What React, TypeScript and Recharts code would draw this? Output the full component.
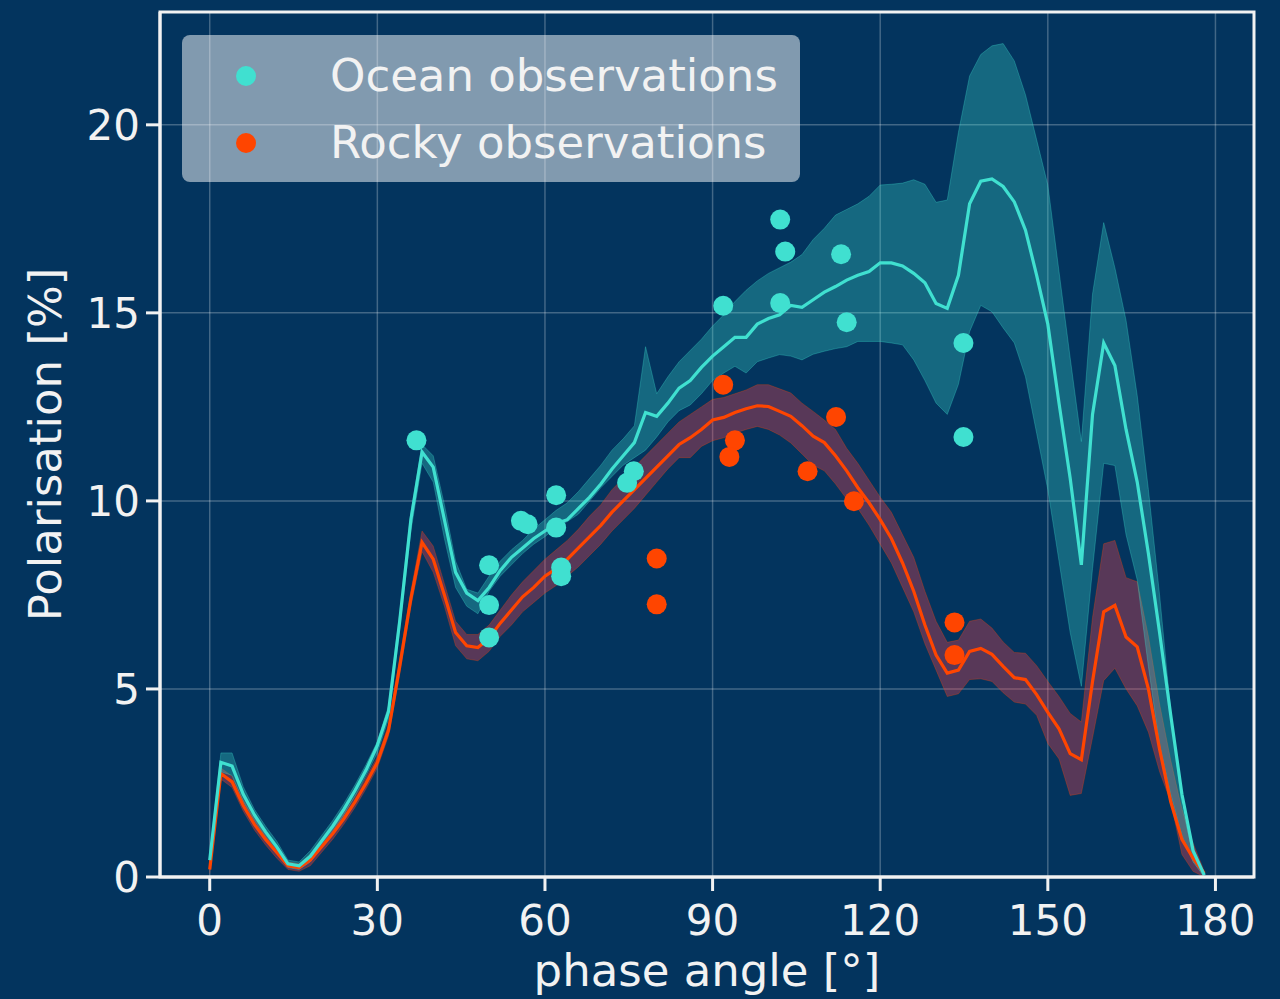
import { ComposedChart, Line, Area, Scatter, XAxis, YAxis, CartesianGrid, Legend, Label, ReferenceArea } from 'recharts'

// phase angle grid of the model curves [deg]
const angles = [
  0, 2, 4, 6, 8, 10, 12, 14, 16, 18,
  20, 22, 24, 26, 28, 30, 32, 34, 36, 38,
  40, 42, 44, 46, 48, 50, 52, 54, 56, 58,
  60, 62, 64, 66, 68, 70, 72, 74, 76, 78,
  80, 82, 84, 86, 88, 90, 92, 94, 96, 98,
  100, 102, 104, 106, 108, 110, 112, 114, 116, 118,
  120, 122, 124, 126, 128, 130, 132, 134, 136, 138,
  140, 142, 144, 146, 148, 150, 152, 154, 156, 158,
  160, 162, 164, 166, 168, 170, 172, 174, 176, 178,
]

const oceanMean = [
  0.45, 3.05, 2.95, 2.2, 1.65, 1.2, 0.8, 0.35, 0.3, 0.55,
  0.95, 1.35, 1.8, 2.3, 2.85, 3.5, 4.4, 6.8, 9.5, 11.3,
  10.9, 9.5, 8.1, 7.55, 7.35, 7.7, 8.15, 8.5, 8.75, 9.0,
  9.2, 9.4, 9.5, 9.8, 10.1, 10.45, 10.85, 11.2, 11.55, 12.35,
  12.25, 12.6, 13.0, 13.2, 13.55, 13.85, 14.1, 14.35, 14.35, 14.7,
  14.85, 14.95, 15.2, 15.15, 15.35, 15.55, 15.7, 15.87, 16.0, 16.1,
  16.33, 16.33, 16.25, 16.05, 15.8, 15.25, 15.12, 16.0, 17.9, 18.5,
  18.56, 18.36, 17.95, 17.2, 16.0, 14.7, 12.6, 10.6, 8.3, 12.3,
  14.2, 13.6, 11.9, 10.5, 8.6, 6.5, 4.3, 2.2, 0.7, 0.05,
]
const oceanHigh = [
  0.55, 3.3, 3.3, 2.4, 1.8, 1.35, 0.95, 0.45, 0.4, 0.7,
  1.1, 1.5, 1.95, 2.45, 3.0, 3.6, 4.55, 7.0, 9.7, 11.5,
  11.2, 9.9, 8.4, 7.65, 7.55, 8.0, 8.4, 8.7, 8.95, 9.25,
  9.5, 9.75, 9.95, 10.25, 10.6, 10.95, 11.35, 11.65, 12.0, 14.1,
  12.85, 13.3, 13.7, 14.0, 14.3, 14.65, 14.95, 15.3, 15.6, 15.85,
  16.05, 16.2, 16.35, 16.55, 16.95, 17.25, 17.6, 17.75, 17.9, 18.1,
  18.4, 18.42, 18.45, 18.54, 18.42, 17.94, 18.0, 19.8, 21.3, 21.87,
  22.1, 22.16, 21.7, 20.8, 19.6, 18.4, 16.1, 13.8, 11.58, 15.5,
  17.4, 16.2, 14.8, 12.8, 10.3, 7.5, 4.4, 1.9, 0.6, 0.1,
]
const oceanLow = [
  0.3, 2.8, 2.7, 2.0, 1.5, 1.05, 0.65, 0.25, 0.2, 0.4,
  0.8, 1.2, 1.65, 2.15, 2.7, 3.3, 4.2, 6.6, 9.2, 11.0,
  10.5, 9.0, 7.7, 7.2, 7.0, 7.6, 8.0, 8.3, 8.6, 8.85,
  9.05, 9.3, 9.45, 9.65, 10.0, 10.35, 10.65, 10.95, 11.15, 11.35,
  11.7, 12.1, 12.4, 12.55, 12.85, 13.2, 13.4, 13.58, 13.4, 13.7,
  13.8, 13.89, 13.85, 13.75, 13.9, 13.98, 14.05, 14.1, 14.24, 14.24,
  14.24, 14.2, 14.15, 13.75, 13.2, 12.6, 12.3, 13.1, 14.5, 15.2,
  15.03, 14.6, 14.2, 13.3, 11.8, 10.3, 8.4, 6.5, 5.07, 8.2,
  11.0, 10.94, 9.1, 7.9, 5.6, 3.5, 2.2, 1.1, 0.4, 0.0,
]

const rockyMean = [
  0.2, 2.75, 2.53, 1.9, 1.4, 1.0, 0.65, 0.3, 0.25, 0.45,
  0.8, 1.15, 1.55, 2.0, 2.5, 3.05, 3.9, 5.6, 7.4, 8.9,
  8.45, 7.5, 6.5, 6.15, 6.1, 6.35, 6.75, 7.1, 7.45, 7.7,
  8.0, 8.2, 8.45, 8.75, 9.05, 9.35, 9.7, 10.0, 10.3, 10.6,
  10.9, 11.2, 11.5, 11.68, 11.9, 12.15, 12.22, 12.35, 12.45, 12.53,
  12.51, 12.38, 12.25, 12.0, 11.72, 11.55, 11.2, 10.8, 10.35, 9.95,
  9.5, 9.0, 8.35, 7.6, 6.7, 5.9, 5.42, 5.5, 6.0, 6.08,
  5.92, 5.6, 5.3, 5.25, 4.85, 4.38, 3.94, 3.28, 3.12, 5.2,
  7.05, 7.22, 6.38, 6.12, 5.0, 3.4, 2.0, 1.0, 0.5, 0.1,
]
const rockyHigh = [
  0.3, 2.9, 2.68, 2.05, 1.55, 1.15, 0.8, 0.4, 0.35, 0.6,
  0.95, 1.3, 1.7, 2.15, 2.65, 3.2, 4.05, 5.8, 7.6, 9.2,
  8.8, 7.8, 6.8, 6.45, 6.45, 6.7, 7.1, 7.5, 7.85, 8.15,
  8.45, 8.7, 8.95, 9.25, 9.6, 9.9, 10.3, 10.6, 10.9, 11.2,
  11.5, 11.8, 12.1, 12.3, 12.5, 12.7, 12.75, 12.85, 12.95, 13.09,
  13.09, 12.98, 12.87, 12.6, 12.38, 12.15, 11.9, 11.4, 11.0, 10.55,
  10.1, 9.7, 9.1, 8.5, 7.6, 6.8, 6.24, 6.3, 6.8, 6.86,
  6.62, 6.25, 5.97, 5.95, 5.62, 5.2, 4.8, 4.35, 4.12, 6.9,
  8.86, 8.95, 7.96, 7.85, 6.4, 4.6, 3.1, 1.8, 0.9, 0.15,
]
const rockyLow = [
  0.1, 2.6, 2.38, 1.75, 1.25, 0.85, 0.5, 0.2, 0.15, 0.3,
  0.65, 1.0, 1.4, 1.85, 2.35, 2.9, 3.75, 5.4, 7.2, 8.65,
  8.1, 7.2, 6.15, 5.8, 5.75, 6.0, 6.4, 6.7, 7.05, 7.3,
  7.55, 7.75, 8.0, 8.25, 8.55, 8.85, 9.2, 9.5, 9.8, 10.15,
  10.5, 10.85, 11.15, 11.15, 11.45, 11.6, 11.68, 11.8, 11.9, 11.98,
  11.9, 11.75, 11.54, 11.25, 10.95, 10.8, 10.45, 10.05, 9.8, 9.35,
  8.85, 8.35, 7.7, 7.05, 6.2, 5.5, 4.8, 4.87, 5.25, 5.27,
  5.2, 4.9, 4.65, 4.6, 4.3, 3.55, 3.14, 2.17, 2.22, 3.7,
  5.22, 5.55, 5.0, 4.55, 3.85, 2.8, 2.0, 0.6, 0.15, 0.0,
]

// observations
const oceanObsAngle = [37.0, 50.0, 50.0, 50.0, 55.7, 56.9, 62.0, 62.0, 62.9, 62.9, 74.7, 75.9, 91.9, 102.1, 103.0, 102.1, 113.0, 114.0, 134.9, 134.9]
const oceanObsValue = [11.61, 8.29, 7.23, 6.37, 9.47, 9.38, 10.15, 9.29, 8.23, 8.0, 10.48, 10.79, 15.19, 17.48, 16.63, 15.26, 16.56, 14.75, 14.2, 11.7]
const rockyObsAngle = [80.0, 80.0, 91.9, 94.0, 93.0, 107.0, 112.1, 115.3, 133.3, 133.3]
const rockyObsValue = [8.47, 7.25, 13.09, 11.61, 11.17, 10.79, 12.23, 9.99, 6.77, 5.9]

const xTicks = [0, 30, 60, 90, 120, 150, 180]
const yTicks = [0, 5, 10, 15, 20]
const legendNames = ['Ocean observations', 'Rocky observations']

const OCEAN = '#40e0d0'
const ROCKY = '#ff4500'
const BG = '#03345e'
const FG = '#f2f2f2'
const FONT = '"DejaVu Sans", sans-serif'
const xDomain = [-8.9, 186.9]
const yDomain = [0, 23]

const curveData = angles.map((deg, i) => ({
  deg,
  ocean: oceanMean[i],
  oceanBand: [oceanLow[i], oceanHigh[i]],
  rocky: rockyMean[i],
  rockyBand: [rockyLow[i], rockyHigh[i]],
}))
const oceanPoints = oceanObsAngle.map((deg, i) => ({ deg, value: oceanObsValue[i] }))
const rockyPoints = rockyObsAngle.map((deg, i) => ({ deg, value: rockyObsValue[i] }))

const tickStyle = { fill: FG, fontSize: 42, fontFamily: FONT }

const renderLegend = (props: any) => {
  const items = (props.payload || []).filter((entry: any) => legendNames.includes(entry.value))
  return (
    <div
      style={{
        width: 618,
        height: 147,
        boxSizing: 'border-box',
        paddingTop: 7,
        background: 'rgba(255,255,255,0.5)',
        borderRadius: 8,
        fontFamily: FONT,
        fontSize: 45,
        color: FG,
      }}
    >
      {items.map((entry: any) => (
        <div key={entry.value} style={{ display: 'flex', alignItems: 'center', height: 67 }}>
          <span
            style={{
              display: 'inline-block',
              width: 20,
              height: 20,
              borderRadius: '50%',
              background: entry.color,
              marginLeft: 54,
              marginRight: 74,
            }}
          />
          <span>{entry.value}</span>
        </div>
      ))}
    </div>
  )
}

const dot = (color: string) => (p: any) => <circle cx={p.cx} cy={p.cy} r={10} fill={color} />

export default function App() {
  return (
    <div style={{ position: 'absolute', left: 0, top: 0, width: 1280, height: 999, background: BG }}>
      <ComposedChart width={1280} height={999} data={curveData} margin={{ top: 12, right: 26, left: 0, bottom: 0 }}>
        <CartesianGrid stroke="rgba(255,255,255,0.25)" strokeWidth={1.5} />
        <XAxis
          dataKey="deg"
          type="number"
          domain={xDomain}
          allowDataOverflow
          ticks={xTicks}
          height={122}
          tick={tickStyle}
          tickSize={14}
          tickMargin={14}
          tickLine={{ stroke: FG, strokeWidth: 3 }}
          axisLine={{ stroke: FG, strokeWidth: 3 }}
        >
          <Label
            content={(p: any) => (
              <text
                x={p.viewBox.x + p.viewBox.width / 2}
                y={986}
                textAnchor="middle"
                fill={FG}
                fontSize={45}
                fontFamily={FONT}
              >
                phase angle [°]
              </text>
            )}
          />
        </XAxis>
        <YAxis
          type="number"
          domain={yDomain}
          allowDataOverflow
          ticks={yTicks}
          width={160}
          tick={tickStyle}
          tickSize={14}
          tickMargin={6}
          tickLine={{ stroke: FG, strokeWidth: 3 }}
          axisLine={{ stroke: FG, strokeWidth: 3 }}
        >
          <Label
            content={(p: any) => {
              const cy = p.viewBox.y + p.viewBox.height / 2
              return (
                <text
                  x={61}
                  y={cy}
                  transform={`rotate(-90 61 ${cy})`}
                  textAnchor="middle"
                  fill={FG}
                  fontSize={45}
                  fontFamily={FONT}
                >
                  Polarisation [%]
                </text>
              )
            }}
          />
        </YAxis>
        <Area
          type="linear"
          dataKey="rockyBand"
          fill="#ff404c"
          fillOpacity={0.34}
          stroke={ROCKY}
          strokeOpacity={0.3}
          strokeWidth={1}
          dot={false}
          activeDot={false}
          legendType="none"
          isAnimationActive={false}
        />
        <Area
          type="linear"
          dataKey="oceanBand"
          fill={OCEAN}
          fillOpacity={0.3}
          stroke={OCEAN}
          strokeOpacity={0.3}
          strokeWidth={1}
          dot={false}
          activeDot={false}
          legendType="none"
          isAnimationActive={false}
        />
        <Line
          type="linear"
          dataKey="rocky"
          stroke={ROCKY}
          strokeWidth={3.2}
          dot={false}
          activeDot={false}
          legendType="none"
          isAnimationActive={false}
        />
        <Line
          type="linear"
          dataKey="ocean"
          stroke={OCEAN}
          strokeWidth={3.2}
          dot={false}
          activeDot={false}
          legendType="none"
          isAnimationActive={false}
        />
        <Scatter
          name="Ocean observations"
          data={oceanPoints}
          dataKey="value"
          fill={OCEAN}
          shape={dot(OCEAN)}
          isAnimationActive={false}
        />
        <Scatter
          name="Rocky observations"
          data={rockyPoints}
          dataKey="value"
          fill={ROCKY}
          shape={dot(ROCKY)}
          isAnimationActive={false}
        />
        <ReferenceArea
          x1={xDomain[0]}
          x2={xDomain[1]}
          y1={yDomain[0]}
          y2={yDomain[1]}
          fill="none"
          stroke={FG}
          strokeWidth={3}
          ifOverflow="visible"
        />
        <Legend
          layout="vertical"
          align="center"
          verticalAlign="middle"
          content={renderLegend}
          wrapperStyle={{ left: 182, top: 35, width: 618, height: 147 }}
        />
      </ComposedChart>
    </div>
  )
}
